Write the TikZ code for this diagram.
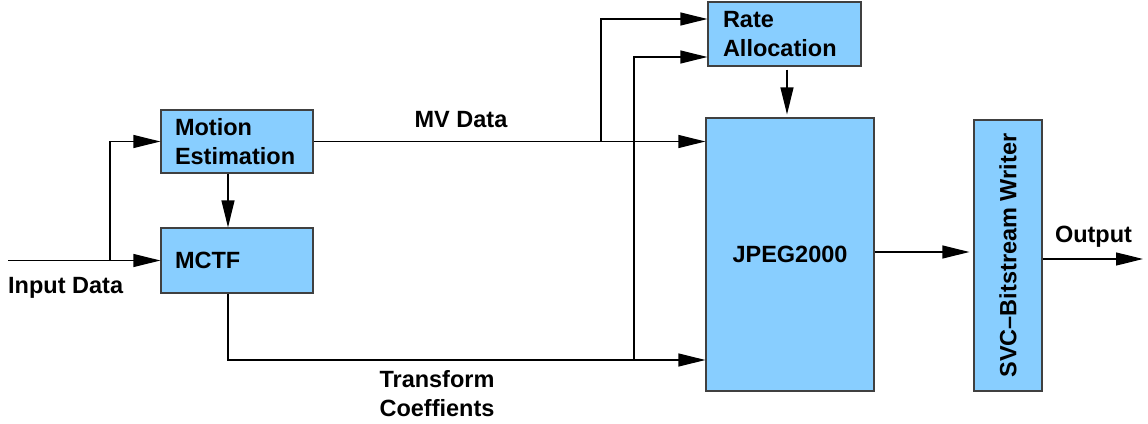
\documentclass[tikz,border=0pt]{standalone}
\usepackage{fontspec}
\setmainfont{Liberation Sans}
\usetikzlibrary{arrows.meta,positioning}
\usepackage{xcolor}
\definecolor{boxblue}{RGB}{136,206,255}

\begin{document}
\begin{tikzpicture}[x=1pt, y=-1pt,
    >={Triangle[length=27pt, width=13pt]},
    every node/.style={
        font=\bfseries\fontsize{23.5}{29}\selectfont,
        inner sep=0pt
    },
    block/.style={
        rectangle,
        draw=black!75,
        line width=1.2pt,
        fill=boxblue
    },
    flow/.style={->, line width=1.2pt, black}
]
    \useasboundingbox (0, 0) rectangle (1148, 423);

    \node (motion_estimation) [block, minimum width=152pt, minimum height=63pt,
        text width=124pt, align=left] at (237, 141.5)
    {
        Motion\\Estimation
    };
    \node (mctf) [block, minimum width=152pt, minimum height=65pt,
        text width=124pt, align=left] at (237, 260.5)
    {
        MCTF
    };
    \node (rate_allocation) [block, minimum width=153pt, minimum height=64pt,
        text width=123pt, align=left] at (784.5, 34)
    {
        \fontsize{23.5}{28}\selectfont Rate\\Allocation
    };
    \node (jpeg2000) [block, minimum width=168pt, minimum height=273pt] at (790, 254.5)
    {
        JPEG2000
    };
    \node (svc_writer) [block, minimum width=68pt, minimum height=271pt] at (1008, 255.5)
    {
        \rotatebox{90}{SVC--Bitstream Writer}
    };

    % labels
    \node (input_data) [anchor=base west] at (8, 293) {Input Data};
    \node (mv_data) [anchor=base] at (461, 127) {MV Data};
    \node (transform_coeffients) [align=left] at (437, 394)
    {
        Transform\\Coeffients
    };
    \node (output) [anchor=base] at (1093.5, 242) {Output};

    % branch points
    \coordinate (input_start) at (8, 260.5);
    \coordinate (input_split) at (110, 260.5);
    \coordinate (mv_split) at (601, 141.5);
    \coordinate (coeff_split) at (634, 360);
    \coordinate (output_end) at (1143, 259);

    \draw[flow] (input_start) to (mctf.west);
    \draw[flow] (input_split) |- (motion_estimation.west);
    \draw[flow] (motion_estimation.east) to (motion_estimation.east -| jpeg2000.west);
    \draw[flow] (mv_split) |- ([yshift=15pt]rate_allocation.west);
    \draw[flow] ([xshift=-9pt]motion_estimation.south) to ([xshift=-9pt]mctf.north);
    \draw[flow] ([xshift=-9pt]mctf.south) |- (coeff_split) to (coeff_split -| jpeg2000.west);
    \draw[flow] (coeff_split) |- ([yshift=-23pt]rate_allocation.west);
    \draw[flow, shorten <=3pt, shorten >=3pt] ([xshift=2.5pt]rate_allocation.south)
        to ([xshift=2.5pt]rate_allocation.south |- jpeg2000.north);
    \draw[flow, shorten >=4pt] ([yshift=2.5pt]jpeg2000.east) to ([yshift=2.5pt]jpeg2000.east -| svc_writer.west);
    \draw[flow] (svc_writer.east |- output_end) to (output_end);
\end{tikzpicture}
\end{document}
